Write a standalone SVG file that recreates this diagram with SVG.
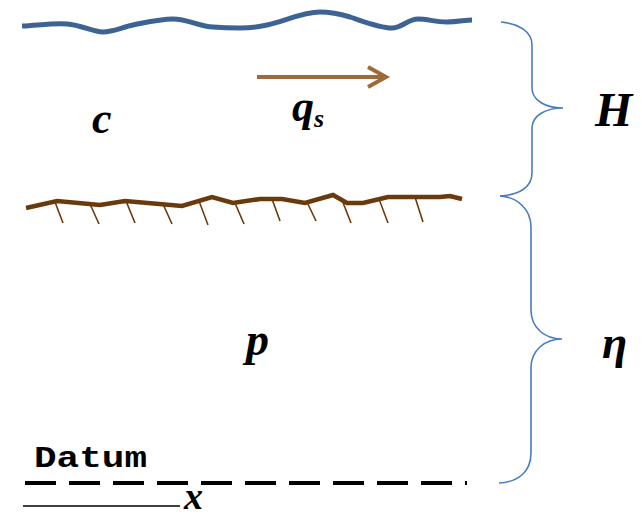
<svg xmlns="http://www.w3.org/2000/svg" width="642" height="518" viewBox="0 0 642 518">
<style>
.math{font-family:"Liberation Serif","Times New Roman",serif;font-weight:bold;font-style:italic;fill:#000}
.brace{fill:none;stroke:#4a7cc0;stroke-width:1.6}
.tick{stroke:#6b3a0c;stroke-width:1.6}
</style>
<rect width="642" height="518" fill="#fff"/>
<g id="water-surface">
<path d="M22,26 C40,25 55,23 67,24 C82,25 92,32 103,32 C113,32 123,27 133,25 C148,22 160,19 173,19 C188,19 200,27 213,27 C225,28 233,28 240,28 C250,28 258,27 267,25 C285,21 303,12 320,12 C332,12 340,14 350,17 C365,22 380,28 392,28 C402,28 408,19 418,19 C428,19 435,22 447,22 C458,22 465,20 472,20" fill="none" stroke="#3d6394" stroke-width="5" stroke-linecap="butt"/>
</g>
<g id="bed">
<polyline points="26,208 57,201 100,205 125,201 182,206 212,197 233,203 260,199 282,199 305,203 333,195 347,203 363,203 388,197 440,197 450,196 462,199" fill="none" stroke="#6b3a0c" stroke-width="4.5" stroke-linejoin="miter"/>
<line class="tick" x1="55" y1="202" x2="63" y2="223"/>
<line class="tick" x1="90" y1="204" x2="99" y2="224"/>
<line class="tick" x1="126" y1="201" x2="135" y2="223"/>
<line class="tick" x1="163" y1="204" x2="172" y2="224"/>
<line class="tick" x1="199" y1="201" x2="208" y2="225"/>
<line class="tick" x1="235" y1="203" x2="244" y2="224"/>
<line class="tick" x1="272" y1="199" x2="280" y2="221"/>
<line class="tick" x1="307" y1="202" x2="316" y2="221"/>
<line class="tick" x1="342" y1="200" x2="351" y2="223"/>
<line class="tick" x1="379" y1="199" x2="388" y2="223"/>
<line class="tick" x1="415" y1="197" x2="423" y2="222"/>
</g>
<g id="flow-arrow">
<line x1="257" y1="77" x2="385" y2="77" stroke="#a06a38" stroke-width="4"/>
<polyline points="368,67 386,77 368,87" fill="none" stroke="#a06a38" stroke-width="4" stroke-linejoin="miter"/>
</g>
<g id="braces">
<path class="brace" d="M501,22 C520,24 532,32 532,45 L532,88 C532,100 545,108 563,108 C545,108 532,116 532,128 L532,173 C532,188 518,195 500,196"/>
<path class="brace" d="M500,196 C518,197 531,210 531,227 L531,310 C531,328 545,339 562,339 C545,339 531,350 531,368 L531,453 C531,472 518,482 499,483"/>
</g>
<g id="datum">
<line x1="25" y1="483" x2="467" y2="483" stroke="#000" stroke-width="4" stroke-dasharray="31 13"/>
<text x="34" y="467" font-family="'Liberation Mono','Courier New',monospace" font-weight="bold" font-size="30" textLength="113" lengthAdjust="spacingAndGlyphs">Datum</text>
</g>
<g id="x-axis">
<line x1="23" y1="506" x2="180" y2="506" stroke="#000" stroke-width="1.5"/>
<text class="math" x="184" y="509" font-size="38">x</text>
</g>
<g id="labels">
<text class="math" x="92" y="133" font-size="44">c</text>
<text class="math" x="292" y="121" font-size="44">q<tspan font-size="26" dy="6">s</tspan></text>
<text class="math" x="595" y="126" font-size="48">H</text>
<text class="math" x="602" y="358" font-size="46">η</text>
<text class="math" x="246" y="355" font-size="46">p</text>
</g>
</svg>
